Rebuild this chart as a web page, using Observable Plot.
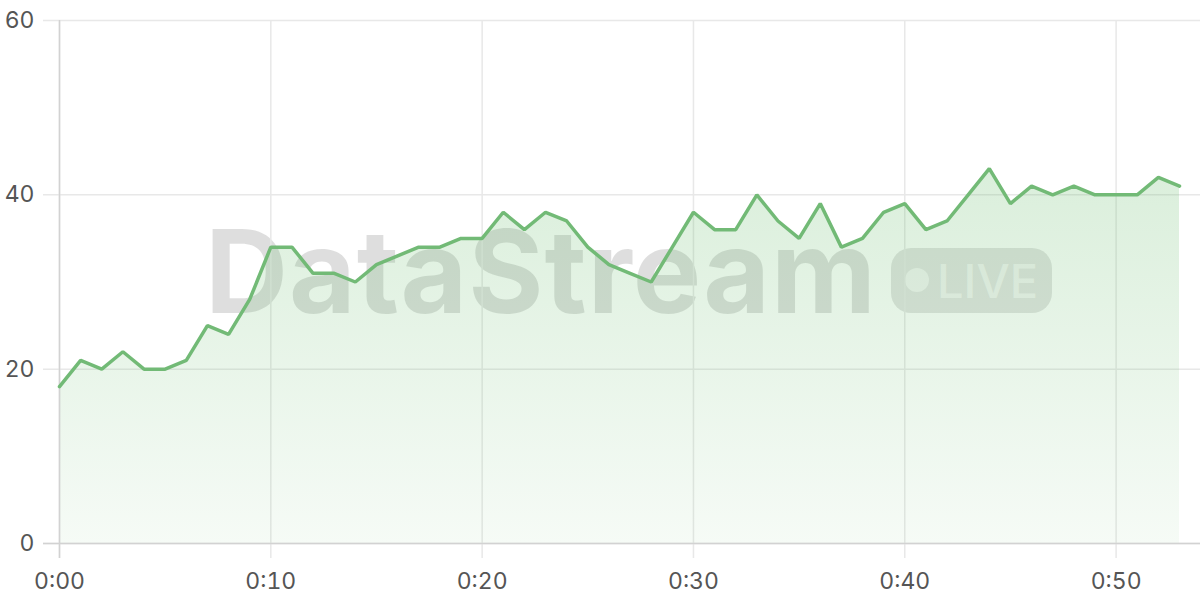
<!DOCTYPE html>
<html><head><meta charset="utf-8">
<script src="https://cdn.jsdelivr.net/npm/d3@7"></script>
<script src="https://cdn.jsdelivr.net/npm/@observablehq/plot@0.6"></script>
<style>
body{margin:0;background:#fff;font-family:Inter, "Helvetica Neue", Arial, sans-serif;}
#wrap{position:relative;width:1200px;height:600px;overflow:hidden;}
#wm{position:absolute;left:0;top:0;width:1200px;height:600px;pointer-events:none;}
#wm .brand{position:absolute;left:205px;top:214px;font:700 115px/1 Inter, sans-serif;color:rgba(0,0,0,0.13);letter-spacing:1px;white-space:nowrap;}
#wm .pill{position:absolute;left:891px;top:248px;width:161px;height:65px;border-radius:20px;background:rgba(0,0,0,0.11);}
#wm .dot{position:absolute;left:905px;top:268px;width:24px;height:24px;border-radius:50%;background:rgba(255,255,255,0.6);}
#wm .live{position:absolute;left:937px;top:257px;font:500 47px/1 Inter, sans-serif;color:rgba(255,255,255,0.6);white-space:nowrap;}
#chart{position:absolute;left:0;top:0;}
</style></head><body>
<div id="wrap">
  <div id="wm"><span class="brand">DataStream</span><div class="pill"></div><div class="dot"></div><span class="live">LIVE</span></div>
  <div id="chart"></div>
</div>
<script>
const minutes = [0,1,2,3,4,5,6,7,8,9,10,11,12,13,14,15,16,17,18,19,20,21,22,23,24,25,26,27,28,29,30,31,32,33,34,35,36,37,38,39,40,41,42,43,44,45,46,47,48,49,50,51,52,53];
const values  = [18,21,20,22,20,20,21,25,24,28,34,34,31,31,30,32,33,34,34,35,35,38,36,38,37,34,32,31,30,34,38,36,36,40,37,35,39,34,35,38,39,36,37,40,43,39,41,40,41,40,40,40,42,41];
const xTicks = [0,10,20,30,40,50];
const yTicks = [0,20,40,60];
const fmt = d => `0:${String(d).padStart(2,"0")}`;

const data = minutes.map((m,i) => ({m, v: values[i]}));

const gradient = () => {
  const defs = d3.create("svg:defs");
  const g = defs.append("linearGradient").attr("id","areaGrad").attr("x1",0).attr("y1",0).attr("x2",0).attr("y2",1);
  g.append("stop").attr("offset","0%").attr("stop-color","#66bb6a").attr("stop-opacity",0.24);
  g.append("stop").attr("offset","100%").attr("stop-color","#66bb6a").attr("stop-opacity",0.06);
  return defs.node();
};

const chart = Plot.plot({
  width: 1200, height: 600,
  marginLeft: 59, marginRight: 21, marginTop: 20, marginBottom: 57,
  style: {background: "transparent", fontSize: "23px", fontFamily: "Inter, sans-serif", color: "#555", overflow: "visible"},
  x: {domain: [0,53], label: null},
  y: {domain: [0,60], label: null},
  marks: [
    gradient,
    Plot.ruleY(yTicks, {stroke: "#e8e8e8", strokeWidth: 1.5, insetLeft: -16, insetRight: -21}),
    Plot.ruleX(xTicks, {stroke: "#e8e8e8", strokeWidth: 1.5, insetBottom: -15}),
    Plot.areaY(data, {x: "m", y: "v", fill: "url(#areaGrad)"}),
    Plot.ruleY([0], {stroke: "#d2d2d2", strokeWidth: 1.5, insetLeft: -16, insetRight: -21}),
    Plot.ruleX([0], {stroke: "#d2d2d2", strokeWidth: 1.5, insetBottom: -15}),
    Plot.lineY(data, {x: "m", y: "v", stroke: "#72ba76", strokeWidth: 3.5, strokeLinejoin: "miter"}),
    Plot.axisX(xTicks, {tickSize: 0, tickPadding: 29, tickFormat: fmt, fill: "#555", label: null}),
    Plot.axisY(yTicks, {tickSize: 0, tickPadding: 25, fill: "#555", label: null})
  ]
});
document.getElementById("chart").append(chart);
</script>
</body></html>
